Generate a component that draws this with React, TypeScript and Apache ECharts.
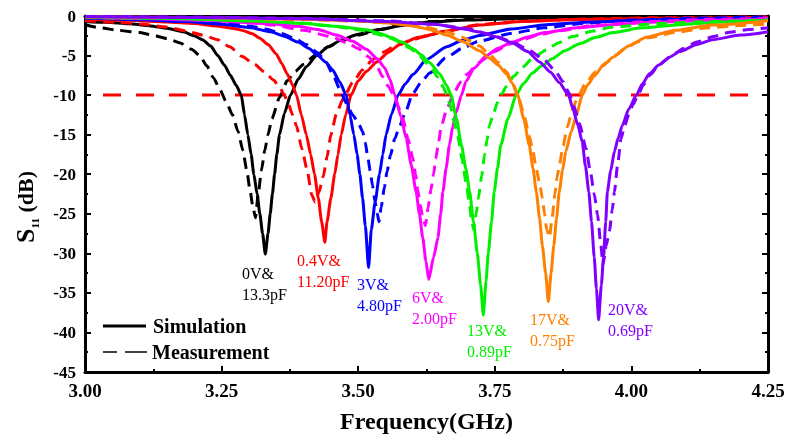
import React, { useEffect, useRef } from "react";
import * as echarts from "echarts";

const FONT = "'Liberation Serif', 'Times New Roman', serif";

// Frequency (GHz) / S11 (dB) pairs
const simBlack = [[3.00,-0.68],[3.04,-0.8],[3.08,-0.98],[3.12,-1.25],[3.15,-1.55],[3.18,-2.0],[3.20,-2.5],[3.215,-3.0],[3.23,-3.8],[3.243,-5.0],[3.255,-6.2],[3.266,-7.5],[3.277,-8.8],[3.286,-10],[3.292,-12.5],[3.298,-15],[3.304,-17.5],[3.309,-20],[3.315,-22.5],[3.32,-25],[3.325,-27.5],[3.33,-30.1],[3.335,-27.5],[3.339,-25],[3.343,-22.5],[3.347,-20],[3.351,-17.5],[3.356,-15],[3.365,-12.3],[3.376,-10],[3.39,-8.0],[3.405,-6.4],[3.424,-5.0],[3.445,-3.9],[3.47,-3.0],[3.50,-2.3],[3.54,-1.7],[3.58,-1.2],[3.63,-0.75],[3.70,-0.5],[3.80,-0.3],[3.95,-0.2],[4.10,-0.15],[4.25,-0.1]];
const measBlack = [[3.00,-1.1],[3.024,-1.45],[3.06,-1.8],[3.10,-2.1],[3.122,-2.4],[3.15,-2.85],[3.174,-3.4],[3.195,-4.2],[3.21,-5.0],[3.223,-6.3],[3.235,-7.8],[3.247,-9.3],[3.258,-10.8],[3.27,-12.5],[3.28,-14.6],[3.289,-17],[3.296,-19.5],[3.302,-22],[3.307,-24],[3.312,-25.5],[3.317,-22.5],[3.323,-19.5],[3.329,-17],[3.335,-15],[3.342,-13],[3.356,-10.3],[3.37,-8.2],[3.385,-7.0],[3.40,-6.1],[3.424,-4.8],[3.445,-3.9],[3.47,-3.1],[3.50,-2.4],[3.54,-1.7],[3.58,-1.15],[3.63,-0.7],[3.70,-0.45],[3.80,-0.28],[3.95,-0.15],[4.25,-0.05]];
const simRed = [[3.00,-0.4],[3.08,-0.55],[3.15,-0.75],[3.20,-0.95],[3.24,-1.25],[3.274,-1.6],[3.29,-1.85],[3.305,-2.2],[3.32,-2.8],[3.335,-3.6],[3.35,-4.8],[3.36,-6.0],[3.37,-7.3],[3.379,-8.6],[3.387,-10],[3.396,-12.5],[3.405,-15],[3.413,-17.5],[3.42,-20],[3.427,-23],[3.433,-26],[3.439,-28.6],[3.443,-26],[3.45,-23],[3.457,-20],[3.463,-17.5],[3.469,-15],[3.477,-12.5],[3.487,-10],[3.50,-8.2],[3.515,-7.0],[3.534,-5.8],[3.555,-4.6],[3.576,-3.6],[3.61,-2.7],[3.662,-1.9],[3.722,-1.15],[3.80,-0.7],[3.90,-0.45],[4.05,-0.3],[4.25,-0.18]];
const measRed = [[3.00,-0.6],[3.06,-0.8],[3.10,-1.0],[3.15,-1.4],[3.185,-1.9],[3.215,-2.4],[3.243,-3.0],[3.265,-3.9],[3.287,-5.1],[3.31,-6.1],[3.329,-7.1],[3.345,-8.1],[3.356,-9.0],[3.365,-10.0],[3.371,-10.9],[3.38,-12.5],[3.387,-13.9],[3.397,-16.8],[3.406,-19.3],[3.415,-22.6],[3.421,-23.5],[3.428,-22.3],[3.436,-20.3],[3.443,-17.8],[3.45,-15],[3.46,-12.4],[3.472,-10.5],[3.49,-8.4],[3.508,-6.8],[3.527,-5.5],[3.545,-4.6],[3.57,-3.7],[3.60,-3.0],[3.63,-2.4],[3.66,-1.9],[3.72,-1.1],[3.80,-0.65],[3.90,-0.4],[4.05,-0.22],[4.25,-0.1]];
const simBlue = [[3.00,-0.3],[3.10,-0.48],[3.185,-0.7],[3.25,-1.05],[3.305,-1.5],[3.34,-2.0],[3.366,-2.6],[3.39,-3.3],[3.41,-4.1],[3.426,-5.0],[3.44,-5.8],[3.453,-6.8],[3.466,-8.3],[3.478,-10],[3.485,-12.5],[3.492,-15],[3.498,-17.5],[3.503,-20],[3.508,-23],[3.513,-26.5],[3.519,-31.8],[3.524,-27],[3.531,-23.5],[3.539,-20],[3.545,-17.5],[3.551,-15],[3.561,-12.4],[3.573,-10],[3.586,-8.6],[3.60,-7.4],[3.625,-5.5],[3.662,-3.9],[3.69,-3.1],[3.722,-2.45],[3.78,-1.65],[3.844,-1.1],[3.93,-0.75],[4.027,-0.5],[4.15,-0.35],[4.25,-0.28]];
const measBlue = [[3.00,-0.2],[3.10,-0.35],[3.20,-0.6],[3.26,-0.9],[3.30,-1.25],[3.33,-1.65],[3.36,-2.2],[3.385,-2.9],[3.405,-3.6],[3.425,-4.6],[3.44,-5.7],[3.453,-7.3],[3.466,-9.2],[3.478,-11],[3.49,-12.5],[3.50,-13.5],[3.508,-14.6],[3.513,-16],[3.517,-17.6],[3.522,-19.6],[3.526,-21.4],[3.531,-23.5],[3.535,-25],[3.538,-26],[3.542,-24.2],[3.548,-21.6],[3.553,-19.6],[3.559,-17.6],[3.567,-15.5],[3.576,-13.9],[3.585,-12.4],[3.60,-9.8],[3.615,-8.4],[3.631,-7.2],[3.66,-5.3],[3.69,-4.1],[3.72,-3.2],[3.78,-2.2],[3.84,-1.5],[3.92,-0.9],[4.0,-0.5],[4.12,-0.25],[4.25,-0.12]];
const simMagenta = [[3.00,-0.2],[3.12,-0.35],[3.22,-0.55],[3.334,-0.95],[3.39,-1.3],[3.426,-1.7],[3.46,-2.4],[3.49,-3.2],[3.515,-4.2],[3.535,-5.4],[3.548,-6.5],[3.558,-8.0],[3.567,-10],[3.578,-12.7],[3.588,-15.5],[3.597,-18.8],[3.606,-22.2],[3.612,-25],[3.618,-28],[3.624,-31],[3.629,-33.3],[3.638,-30.5],[3.646,-28],[3.651,-25],[3.655,-22.2],[3.661,-19.2],[3.667,-16.3],[3.673,-14],[3.679,-12.2],[3.689,-10],[3.697,-8.3],[3.712,-6.6],[3.735,-5.0],[3.755,-4.1],[3.782,-3.3],[3.81,-2.65],[3.842,-2.1],[3.90,-1.5],[3.963,-1.1],[4.05,-0.75],[4.146,-0.55],[4.25,-0.4]];
const measMagenta = [[3.00,-0.15],[3.10,-0.25],[3.20,-0.4],[3.28,-0.7],[3.345,-1.15],[3.40,-1.8],[3.45,-2.6],[3.48,-3.4],[3.50,-4.1],[3.52,-5.2],[3.535,-6.5],[3.545,-7.7],[3.555,-8.9],[3.565,-10],[3.573,-11.4],[3.582,-13],[3.591,-15.5],[3.60,-18],[3.605,-20],[3.609,-22],[3.614,-24],[3.618,-25.5],[3.623,-26.5],[3.628,-24.2],[3.633,-22],[3.638,-20],[3.642,-18],[3.647,-16],[3.652,-13.9],[3.663,-11.6],[3.676,-9.6],[3.688,-8.3],[3.70,-7.3],[3.72,-5.9],[3.75,-4.5],[3.775,-3.6],[3.80,-3.0],[3.83,-2.4],[3.865,-1.9],[3.93,-1.2],[4.03,-0.7],[4.13,-0.45],[4.25,-0.3]];
const simGreen = [[3.00,-0.15],[3.15,-0.28],[3.318,-0.65],[3.40,-0.95],[3.46,-1.3],[3.516,-1.75],[3.54,-2.2],[3.56,-2.7],[3.58,-3.3],[3.60,-4.1],[3.615,-4.9],[3.631,-5.9],[3.649,-7.3],[3.662,-8.8],[3.67,-10],[3.68,-13],[3.689,-16.3],[3.697,-19.3],[3.704,-22.2],[3.711,-26],[3.718,-30],[3.724,-34],[3.729,-37.8],[3.734,-33.5],[3.738,-30],[3.744,-26],[3.749,-22.2],[3.755,-19.2],[3.761,-16.3],[3.774,-13],[3.789,-10],[3.803,-8.5],[3.819,-7.2],[3.836,-6.3],[3.855,-5.4],[3.878,-4.4],[3.905,-3.5],[3.935,-2.7],[3.966,-2.1],[4.02,-1.5],[4.088,-1.1],[4.17,-0.75],[4.25,-0.55]];
const measGreen = [[3.00,-0.2],[3.15,-0.3],[3.30,-0.55],[3.40,-0.9],[3.45,-1.25],[3.50,-1.75],[3.53,-2.2],[3.555,-2.7],[3.576,-3.3],[3.595,-4.1],[3.612,-5.0],[3.626,-6.0],[3.636,-6.8],[3.645,-7.7],[3.655,-8.9],[3.662,-9.9],[3.668,-11.2],[3.675,-13.2],[3.682,-15.1],[3.69,-18.1],[3.698,-21.3],[3.703,-23.5],[3.707,-25.5],[3.711,-27],[3.716,-25],[3.72,-23],[3.726,-20.2],[3.731,-17.6],[3.736,-15.6],[3.74,-13.9],[3.748,-12.2],[3.755,-10.9],[3.763,-9.8],[3.771,-8.9],[3.785,-7.6],[3.80,-6.5],[3.82,-5.3],[3.844,-4.3],[3.866,-3.4],[3.892,-2.6],[3.93,-1.9],[3.965,-1.4],[4.05,-0.95],[4.148,-0.7],[4.25,-0.5]];
const simOrange = [[3.00,-0.1],[3.20,-0.2],[3.40,-0.4],[3.50,-0.6],[3.55,-0.85],[3.60,-1.25],[3.63,-1.7],[3.662,-2.4],[3.69,-3.2],[3.722,-4.4],[3.74,-5.3],[3.756,-6.2],[3.771,-7.3],[3.782,-8.5],[3.792,-10],[3.803,-13],[3.813,-16.3],[3.82,-19.3],[3.826,-22.2],[3.832,-25.6],[3.837,-29],[3.843,-32.5],[3.848,-36.1],[3.853,-32.5],[3.858,-29],[3.863,-25.6],[3.868,-22.2],[3.874,-19.5],[3.88,-17.1],[3.89,-14.6],[3.899,-12.6],[3.91,-10],[3.92,-8.7],[3.932,-7.6],[3.948,-6.3],[3.966,-5.2],[3.995,-3.8],[4.027,-2.7],[4.08,-1.8],[4.148,-1.15],[4.25,-0.6]];
const measOrange = [[3.00,-0.1],[3.20,-0.2],[3.40,-0.45],[3.50,-0.65],[3.57,-0.95],[3.62,-1.4],[3.662,-2.0],[3.69,-2.7],[3.722,-3.8],[3.74,-4.8],[3.755,-5.8],[3.771,-7.0],[3.784,-8.7],[3.795,-10.6],[3.804,-12.7],[3.813,-15.1],[3.82,-17.2],[3.826,-19.3],[3.832,-21.2],[3.837,-23],[3.841,-25],[3.845,-27],[3.85,-28],[3.855,-25.5],[3.86,-22.5],[3.864,-20.4],[3.868,-18.9],[3.875,-16.4],[3.883,-14],[3.892,-11.8],[3.903,-10.0],[3.917,-8.4],[3.935,-7.0],[3.954,-5.9],[3.972,-4.9],[3.99,-4.0],[4.01,-3.3],[4.03,-2.75],[4.085,-2.0],[4.14,-1.5],[4.20,-1.2],[4.25,-1.0]];
const simPurple = [[3.00,-0.1],[3.20,-0.18],[3.40,-0.35],[3.55,-0.7],[3.64,-1.05],[3.691,-1.6],[3.72,-2.0],[3.75,-2.6],[3.782,-3.4],[3.81,-4.5],[3.832,-5.8],[3.852,-7.1],[3.868,-8.4],[3.885,-10],[3.893,-11.75],[3.902,-13.8],[3.91,-15.9],[3.916,-19],[3.922,-22.2],[3.927,-26],[3.932,-30.5],[3.936,-34.5],[3.94,-38.4],[3.945,-34],[3.949,-30.5],[3.953,-26],[3.956,-22.2],[3.962,-19.6],[3.969,-17.1],[3.976,-15.4],[3.983,-13.9],[3.995,-11.8],[4.009,-10],[4.02,-8.6],[4.033,-7.3],[4.05,-6.2],[4.07,-5.2],[4.088,-4.5],[4.12,-3.6],[4.148,-3.0],[4.20,-2.4],[4.25,-2.0]];
const measPurple = [[3.00,-0.05],[3.20,-0.12],[3.40,-0.3],[3.55,-0.6],[3.64,-1.05],[3.70,-1.6],[3.74,-2.3],[3.78,-3.2],[3.81,-4.2],[3.84,-5.5],[3.86,-6.9],[3.875,-8.3],[3.885,-9.6],[3.895,-11.4],[3.905,-13.6],[3.917,-16.75],[3.925,-19.7],[3.932,-22.5],[3.938,-25.1],[3.944,-28.9],[3.948,-31.5],[3.954,-29],[3.96,-27.1],[3.965,-24.5],[3.969,-22.2],[3.975,-18.7],[3.981,-15.5],[3.988,-13.8],[3.995,-12.5],[4.003,-11.2],[4.012,-10],[4.022,-8.7],[4.035,-7.4],[4.05,-6.2],[4.07,-5.2],[4.095,-4.1],[4.12,-3.3],[4.15,-2.6],[4.18,-2.05],[4.215,-1.7],[4.25,-1.5]];
const refLine = [[3.033,-10],[4.215,-10]];

const curveColors = ["#000000", "#ff0000", "#0000ff", "#ff00ff", "#00f000", "#ff8000", "#8000ff"];
const simCurves = [simBlack, simRed, simBlue, simMagenta, simGreen, simOrange, simPurple];
const measCurves = [measBlack, measRed, measBlue, measMagenta, measGreen, measOrange, measPurple];
const labelLines = [
  ["0V&", "13.3pF"],
  ["0.4V&", "11.20pF"],
  ["3V&", "4.80pF"],
  ["6V&", "2.00pF"],
  ["13V&", "0.89pF"],
  ["17V&", "0.75pF"],
  ["20V&", "0.69pF"],
];
const labelPos = [[242, 263], [297, 250], [357, 274], [412, 287], [467, 320], [530, 309], [608, 299]];

const xTicks = { min: 3, max: 4.25, interval: 0.25 };
const yTicks = { min: -45, max: 0, interval: 5 };

export default function App() {
  const ref = useRef<HTMLDivElement>(null);
  useEffect(() => {
    document.body.style.margin = "0";
    const chart = echarts.init(ref.current!, null, { renderer: "svg" });
    const axisCommon = {
      type: "value" as const,
      axisLine: { show: true, onZero: false, lineStyle: { color: "#000", width: 3 } },
      axisTick: { show: true, inside: true, length: 6, lineStyle: { color: "#000", width: 2 } },
      minorTick: { show: true, splitNumber: 2, length: 3, lineStyle: { color: "#000", width: 2 } },
      splitLine: { show: false },
      minorSplitLine: { show: false },
    };
    const labelStyle = { fontFamily: FONT, fontWeight: "bold" as const, color: "#000" };
    const series: any[] = [];
    simCurves.forEach((d, i) => {
      series.push({
        type: "line", data: measCurves[i], symbol: "none", smooth: 0.2, smoothMonotone: "x",
        lineStyle: { color: curveColors[i], width: 3, type: [11, 7], join: "round" }, silent: true,
      });
      series.push({
        type: "line", data: d, symbol: "none", smooth: 0.2, smoothMonotone: "x",
        lineStyle: { color: curveColors[i], width: 3, type: "solid", join: "round" }, silent: true,
      });
    });
    series.push({
      type: "line", data: refLine, symbol: "none",
      lineStyle: { color: "#ff0000", width: 3, type: [18, 15] }, silent: true, z: 1,
    });
    const graphics: any[] = [];
    labelLines.forEach((l, i) => {
      graphics.push({
        type: "text", x: labelPos[i][0], y: labelPos[i][1],
        style: { text: l.join("\n"), fill: curveColors[i], font: `16px ${FONT}`, lineHeight: 21, align: "left", verticalAlign: "top" },
      });
    });
    graphics.push(
      { type: "line", shape: { x1: 103, y1: 326, x2: 146, y2: 326 }, style: { stroke: "#000", lineWidth: 3 } },
      { type: "line", shape: { x1: 103, y1: 352, x2: 117, y2: 352 }, style: { stroke: "#000", lineWidth: 1.5 } },
      { type: "line", shape: { x1: 125, y1: 352, x2: 147, y2: 352 }, style: { stroke: "#000", lineWidth: 1.5 } },
      { type: "text", x: 153, y: 326, style: { text: "Simulation", fill: "#000", font: `bold 20px ${FONT}`, verticalAlign: "middle" } },
      { type: "text", x: 152, y: 352, style: { text: "Measurement", fill: "#000", font: `bold 20px ${FONT}`, verticalAlign: "middle" } },
      {
        type: "text", x: 25, y: 207, rotation: Math.PI / 2,
        style: {
          text: "{s|S}{sub|11}{d| (dB)}", align: "center", verticalAlign: "middle", fill: "#000",
          rich: {
            s: { fontFamily: FONT, fontWeight: "bold", fontSize: 26, lineHeight: 30, fill: "#000" },
            sub: { fontFamily: FONT, fontWeight: "bold", fontSize: 11, lineHeight: 30, verticalAlign: "bottom", fill: "#000" },
            d: { fontFamily: FONT, fontWeight: "bold", fontSize: 22, lineHeight: 30, fill: "#000" },
          },
        },
      }
    );
    chart.setOption({
      animation: false,
      grid: { left: 85, right: 20, top: 16, bottom: 62 },
      xAxis: [
        {
          ...axisCommon, ...xTicks, position: "bottom",
          axisLabel: { ...labelStyle, fontSize: 19, margin: 9, formatter: (v: number) => v.toFixed(2) },
          name: "Frequency(GHz)", nameLocation: "middle", nameGap: 37,
          nameTextStyle: { ...labelStyle, fontSize: 24 },
        },
        { ...axisCommon, ...xTicks, position: "top", axisLabel: { show: false } },
      ],
      yAxis: [
        {
          ...axisCommon, ...yTicks, position: "left",
          axisLabel: { ...labelStyle, fontSize: 17, margin: 9, formatter: (v: number) => String(v) },
        },
        { ...axisCommon, ...yTicks, position: "right", axisLabel: { show: false } },
      ],
      series,
      graphic: graphics,
    });
    return () => chart.dispose();
  }, []);
  return <div ref={ref} style={{ position: "fixed", left: 0, top: 0, width: 788, height: 438 }} />;
}
